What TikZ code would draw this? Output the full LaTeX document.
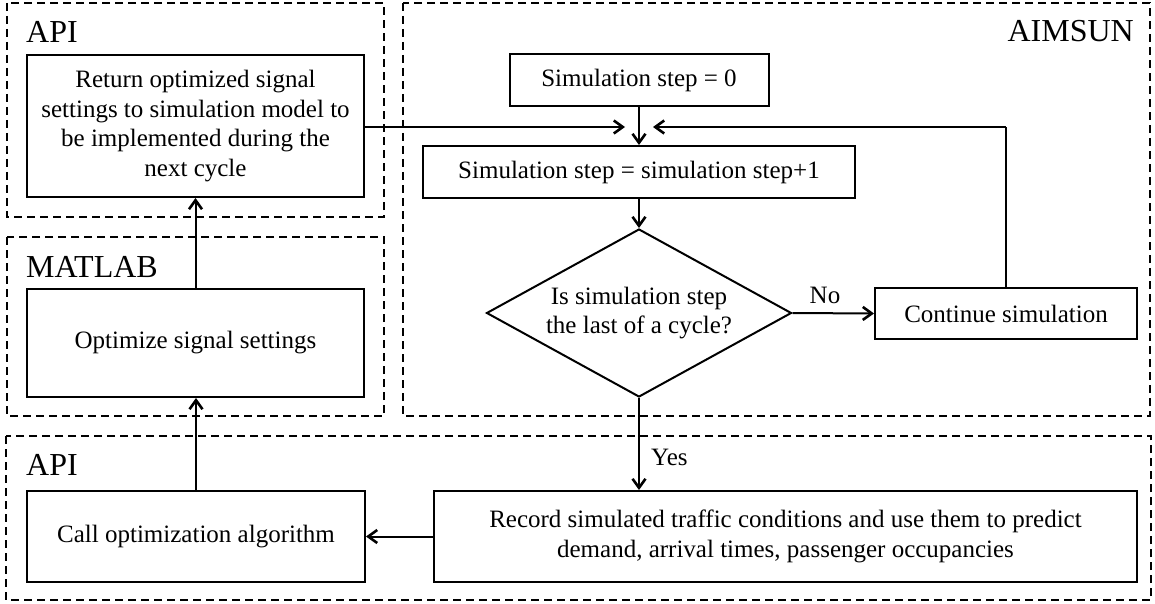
\documentclass[tikz,border=0pt]{standalone}
\usepackage{fontspec}
\setmainfont{Liberation Serif}
\usetikzlibrary{arrows.meta,shapes.geometric}
\begin{document}
\begin{tikzpicture}[x=1pt,y=-1pt,
  region/.style={draw,line width=1.6pt,dash pattern=on 8pt off 5pt},
  box/.style={draw,line width=2pt,inner sep=0pt,align=center,font=\fontsize{25}{29.5}\selectfont},
  decide/.style={draw,line width=2pt,diamond,aspect=1.815,inner sep=0pt,align=center,font=\fontsize{25}{28.5}\selectfont,minimum width=305pt,minimum height=168pt},
  tag/.style={inner sep=0pt,font=\fontsize{32}{36}\selectfont},
  elabel/.style={inner sep=0pt,font=\fontsize{25}{29.5}\selectfont},
  conn/.style={line width=2pt,-{Straight Barb[length=9pt,width=13pt,line width=2.6pt]}},
  plain/.style={line width=2pt}
]
\useasboundingbox (0,0) rectangle (1155,604);
% regions
\draw[region] (7,3) rectangle (384,217);
\draw[region] (7,237) rectangle (384,416);
\draw[region] (403,3) rectangle (1150,416);
\draw[region] (6,436) rectangle (1151,600);
% region labels
\node[tag,anchor=base west] (lapi1) at (26,43) {API};
\node[tag,anchor=base west] (lmat) at (26,277) {MATLAB};
\node[tag,anchor=base west] (lapi2) at (26,475) {API};
\node[tag,anchor=base east] (laim) at (1134,42) {AIMSUN};
% boxes
\node[box,minimum width=337pt,minimum height=142pt] (ret) at (195.5,126) {Return optimized signal\\settings to simulation model to\\be implemented during the\\next cycle};
\node[box,minimum width=337pt,minimum height=108pt] (opt) at (195.5,343) {Optimize signal settings};
\node[box,minimum width=338pt,minimum height=91pt] (call) at (196,536.5) {Call optimization algorithm};
\node[box,minimum width=703pt,minimum height=91pt] (rec) at (785.5,536.5) {Record simulated traffic conditions and use them to predict\\demand, arrival times, passenger occupancies};
\node[box,minimum width=259pt,minimum height=52pt] (s0) at (639,80) {Simulation step = 0};
\node[box,minimum width=432pt,minimum height=52pt] (s1) at (639,172) {Simulation step = simulation step+1};
\node[decide] (dec) at (639,313) {Is simulation step\\the last of a cycle?};
\node[box,minimum width=262pt,minimum height=51pt] (cont) at (1006,313.5) {Continue simulation};
% coordinates
\coordinate (inL) at (625,127);
\coordinate (inR) at (653,127);
\coordinate (loopTop) at (1006,127);
% connectors
\draw[conn] (ret.east |- inL) -- (inL);
\draw[plain] (cont.north) -- (loopTop);
\draw[conn] (loopTop) -- (inR);
\draw[conn] (s0.south) -- (s1.north);
\draw[conn] (s1.south) -- (dec.north);
\draw[conn] (dec.east) -- (cont.west);
\node[elabel] (lno) at (825,295) {No};
\draw[conn] (dec.south) -- (dec.south |- rec.north);
\node[elabel,anchor=west] (lyes) at (651,457) {Yes};
\draw[conn] (rec.west) -- (call.east);
\draw[conn] (call.north) -- (call.north |- opt.south);
\draw[conn] (opt.north) -- (opt.north |- ret.south);
\end{tikzpicture}
\end{document}
